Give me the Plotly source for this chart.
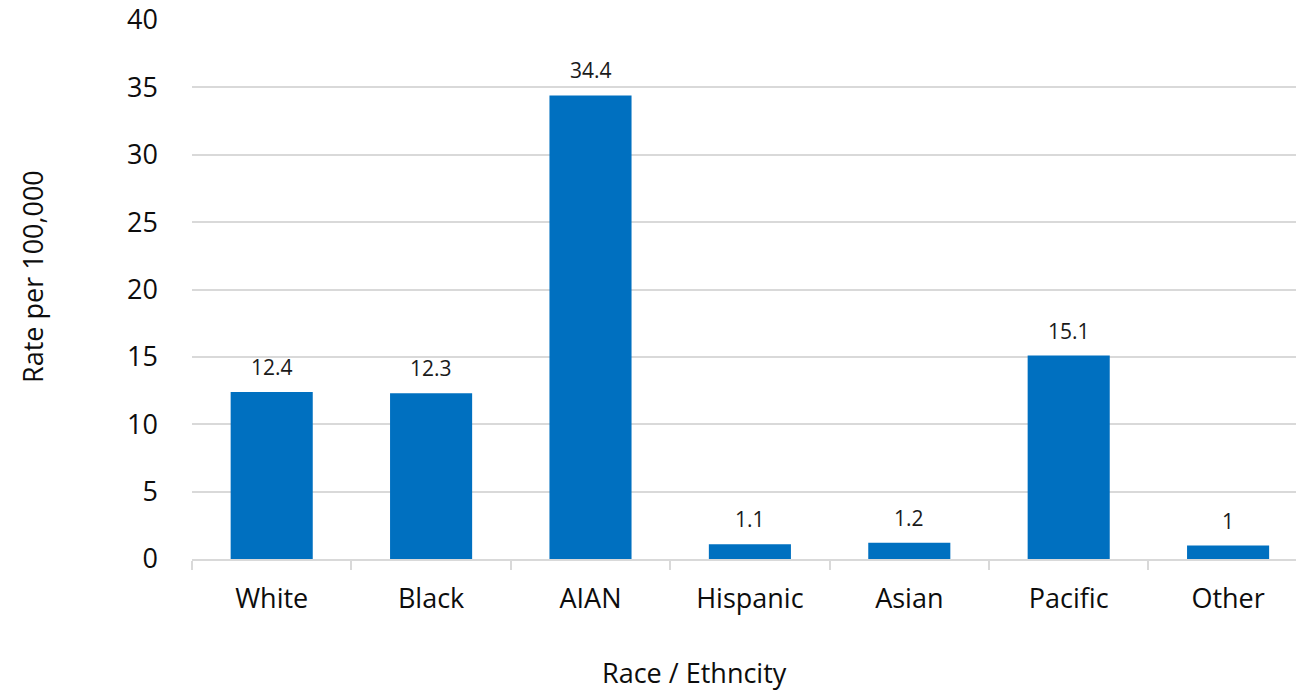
import plotly.graph_objects as go

categories = ["White", "Black", "AIAN", "Hispanic", "Asian", "Pacific", "Other"]
rates = [12.4, 12.3, 34.4, 1.1, 1.2, 15.1, 1]
y_ticks = [0, 5, 10, 15, 20, 25, 30, 35, 40]

FONT = "Open Sans"
BAR_COLOR = "#0070C0"
GRID = "#d9d9d9"
TEXT = "#0d0d0d"

fig = go.Figure(
    go.Bar(
        x=categories,
        y=rates,
        marker=dict(color=BAR_COLOR, line=dict(width=0)),
        width=0.515,
        hoverinfo="x+y",
    )
)

# value labels above each bar
for cat, val in zip(categories, rates):
    fig.add_annotation(
        x=cat, y=val, text=f"{val:g}", showarrow=False,
        yanchor="bottom", yshift=9,
        font=dict(family=FONT, size=21, color="#1a1a1a"),
    )

fig.update_layout(
    width=1296, height=693,
    margin=dict(l=192, r=0, t=20, b=134),
    plot_bgcolor="white", paper_bgcolor="white",
    showlegend=False,
    font=dict(family=FONT, color=TEXT),
    annotations=list(fig.layout.annotations) + [
        dict(text="Race / Ethncity", xref="paper", yref="paper",
             x=(694 - 192) / 1104, y=-(672 - 559) / 539,
             xanchor="center", yanchor="middle", showarrow=False,
             borderpad=0,
             font=dict(family=FONT, size=27, color=TEXT)),
        dict(text="Rate per 100,000", xref="paper", yref="paper",
             x=-(192 - 32) / 1104, y=(559 - 277) / 539, textangle=-90,
             xanchor="center", yanchor="middle", showarrow=False,
             font=dict(family=FONT, size=27, color=TEXT)),
    ],
)

fig.update_xaxes(
    range=[-0.5, 6.426],
    showline=True, linecolor=GRID, linewidth=1.5,
    ticks="outside", tickson="boundaries", ticklen=9, tickcolor=GRID, tickwidth=1.5,
    tickfont=dict(family=FONT, size=27, color=TEXT),
    ticklabelstandoff=15,
    showgrid=False,
)
fig.update_yaxes(
    range=[0, 40], tickvals=y_ticks,
    showgrid=True, gridcolor=GRID, gridwidth=1.5,
    zeroline=False, showline=False,
    tickfont=dict(family=FONT, size=27, color=TEXT),
    ticklabelstandoff=33,
)

fig.write_html("out.html")
